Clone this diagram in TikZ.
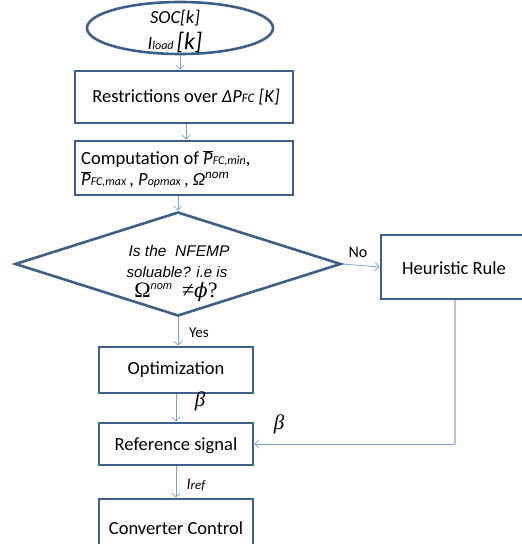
\documentclass[tikz,border=0pt]{standalone}
\usepackage{fontspec}
\setmainfont{Carlito}
\newfontfamily\arialf{Liberation Sans}
\newfontfamily\timesf{Liberation Serif}
\newfontfamily\djs{DejaVu Serif}
\usetikzlibrary{shapes.geometric,arrows.meta}
\definecolor{boxc}{HTML}{3E5F8A}
\definecolor{linec}{HTML}{7BA3D3}
\definecolor{hlinec}{HTML}{B5C5DB}
\newcommand{\fs}[1]{\fontsize{#1}{#1}\selectfont}
\begin{document}
\begin{tikzpicture}[x=1pt,y=-1pt,
  box/.style={draw=boxc,line width=2.6pt,fill=white,rectangle,inner sep=0pt},
  conn/.style={draw=linec,line width=0.8pt,-{Straight Barb[length=4pt,width=8pt]}},
  hline/.style={draw=hlinec,line width=2.4pt},
  txt/.style={inner sep=0pt}]
\useasboundingbox (0,0) rectangle (522,544);
\clip (0,0) rectangle (522,544);
% shapes
\node[draw=boxc,line width=2.6pt,ellipse,minimum width=186pt,minimum height=52pt,inner sep=0pt] (ell) at (180,28) {};
\node[box,minimum width=218pt,minimum height=52pt] (b1) at (184,97) {};
\node[box,minimum width=218pt,minimum height=54pt] (b2) at (184,168) {};
\node[draw=boxc,line width=2.6pt,diamond,minimum width=326pt,minimum height=104pt,inner sep=0pt] (dia) at (178,264) {};
\node[box,minimum width=148pt,minimum height=64pt] (heur) at (455,267) {};
\node[box,minimum width=154pt,minimum height=46pt] (opt) at (176,370) {};
\node[box,minimum width=154pt,minimum height=42pt] (ref) at (176,444) {};
\node[box,minimum width=154pt,minimum height=60pt] (conv) at (176,529) {};
\coordinate (corner) at (heur.south |- ref.east);
% texts
\node[txt] (t1) at (175,18) {\fs{18.5}\itshape SOC[k]};
\node[txt] (t2) at (175,42) {\itshape\fs{18.5}I{\fs{12}load}\,{\fs{24}[k]}};
\node[txt] (tb1) at (186,97) {\fs{18.5}Restrictions over \textit{ΔP{\fs{13}FC} [K]}};
\node[txt,anchor=west] (tb2a) at (81,159) {\fs{18.5}Computation of $\overline{\mbox{\itshape P}}$\textit{\fs{12}FC,min},};
\node[txt,anchor=west] (tb2b) at (81,180) {\fs{18.5}$\overline{\mbox{\itshape P}}$\textit{\fs{12}FC,max}\,, \textit{P{\fs{12}opmax}}\,, \textit{Ω}\raisebox{7pt}{\itshape\fs{13}nom}};
\node[txt] (td1) at (179,251) {\arialf\itshape\fs{15.5}Is the\ \ NFEMP};
\node[txt] (td2) at (177,272) {\arialf\itshape\fs{15}soluable? i.e is};
\node[txt] (td3) at (176,292) {{\timesf\fs{22}Ω}\raisebox{8pt}{\arialf\itshape\fs{11}nom}\hspace{10pt}{\timesf\fs{22}≠}{\djs\itshape\fs{20}ϕ}{\timesf\fs{22}?}};
\node[txt] (th) at (454,268) {\fs{18.5}Heuristic Rule};
\node[txt] (to) at (176,370) {\fs{18.5}Optimization};
\node[txt] (tr) at (176,446) {\fs{18.5}Reference signal};
\node[txt] (tc) at (176,528) {\fs{18.5}Converter Control};
\node[txt] (lno) at (358,252) {\fs{16}No};
\node[txt] (lyes) at (199,333) {\fs{15}Yes};
\node[txt] (lb1) at (200,401) {\timesf\itshape\fs{21}β};
\node[txt] (lb2) at (279,424) {\timesf\itshape\fs{21}β};
\node[txt] (lir) at (196,485) {\itshape\fs{16}I{\fs{13}ref}};
% connectors
\draw[conn] (ell.south) -- (b1.north -| ell.south);
\draw[conn] (b1.south -| tb1.center) -- (b2.north -| tb1.center);
\draw[conn] (b2.south -| dia.north) -- (dia.north);
\draw[conn] (dia.east) -- (heur.west);
\draw[conn] (dia.south) -- (dia.south |- opt.north);
\draw[conn] (opt.south) -- (ref.north);
\draw[conn] (ref.south) -- (conv.north);
\draw[hline] (heur.south) -- (corner);
\draw[conn] (corner) -- (ref.east);
\end{tikzpicture}
\end{document}
